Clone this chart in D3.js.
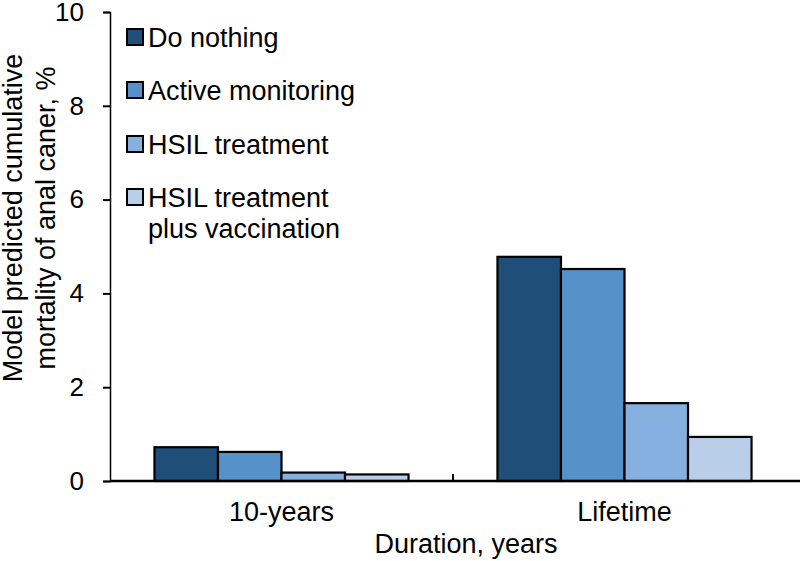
<!DOCTYPE html>
<html><head><meta charset="utf-8">
<script src="https://cdn.jsdelivr.net/npm/d3@7"></script>
<style>body{margin:0;background:#fff}svg{display:block}text{font-family:"Liberation Sans",Arial,sans-serif;fill:#000}</style>
</head><body>
<svg id="c" width="800" height="561"></svg>
<script>
const categories = ["10-years", "Lifetime"];
const seriesNames = ["Do nothing", "Active monitoring", "HSIL treatment", "HSIL treatment plus vaccination"];
const doNothing = [0.72, 4.78];
const activeMonitoring = [0.62, 4.52];
const hsilTreatment = [0.18, 1.66];
const hsilVaccination = [0.14, 0.94];
const yTicks = [0, 2, 4, 6, 8, 10];
const colors = ["#1f4e79", "#5592c9", "#86b0df", "#b9cfe9"];

const seriesValues = [doNothing, activeMonitoring, hsilTreatment, hsilVaccination];
const svg = d3.select("#c");
const FONT = "Liberation Sans, Arial, sans-serif";
const mLeft = 110, mRight = 796, mTop = 12, mBottom = 481;
const x = d3.scaleBand().domain(categories).range([mLeft, mRight]).paddingInner(0).paddingOuter(0);
const y = d3.scaleLinear().domain([0, 10]).range([mBottom, mTop]);
const inner = d3.scaleBand().domain(seriesNames).range([0, x.bandwidth()]).paddingOuter(0.7).paddingInner(0);

// bars
const g = svg.append("g");
categories.forEach((c, ci) => {
  seriesNames.forEach((s, si) => {
    const v = seriesValues[si][ci];
    g.append("rect")
      .attr("x", x(c) + inner(s))
      .attr("y", y(v))
      .attr("width", inner.bandwidth())
      .attr("height", y(0) - y(v))
      .attr("fill", colors[si])
      .attr("stroke", "#000").attr("stroke-width", 2.2);
  });
});

// y axis
const ya = svg.append("g").attr("transform", `translate(${mLeft},0)`)
  .call(d3.axisLeft(y).tickValues(yTicks).tickSize(7).tickPadding(19).tickFormat(d3.format("d")));
ya.select(".domain").attr("stroke", "#000").attr("stroke-width", 1.5);
ya.selectAll(".tick line").attr("stroke", "#000").attr("stroke-width", 2);
ya.selectAll(".tick text").style("font-size", "26px").attr("font-family", FONT).attr("fill", "#000");

// x axis
const xa = svg.append("g").attr("transform", `translate(0,${mBottom})`)
  .call(d3.axisBottom(x).tickSize(0).tickPadding(21));
xa.select(".domain").remove();
xa.append("line").attr("x1", mLeft).attr("x2", 800).attr("y1", 0).attr("y2", 0).attr("stroke", "#000").attr("stroke-width", 2.5);
xa.append("line").attr("x1", x(categories[1])).attr("x2", x(categories[1])).attr("y1", 0).attr("y2", -7).attr("stroke", "#000").attr("stroke-width", 2);
xa.selectAll(".tick text").style("font-size", "27px").attr("font-family", FONT).attr("fill", "#000");

// axis titles
svg.append("text").attr("x", 466).attr("y", 553).attr("text-anchor", "middle").style("font-size", "27px").text("Duration, years");
const yt = svg.append("text").attr("transform", "translate(0,218) rotate(-90)").attr("text-anchor", "middle").style("font-size", "27px");
yt.append("tspan").attr("x", 0).attr("y", 22).text("Model predicted cumulative");
yt.append("tspan").attr("x", 0).attr("y", 55).text("mortality of anal caner, %");

// legend
const legY = [47, 100, 154, 207];
seriesNames.forEach((s, i) => {
  const lg = svg.append("g").attr("transform", `translate(127,${legY[i]})`);
  lg.append("rect").attr("x", 0).attr("y", -18).attr("width", 16).attr("height", 16).attr("fill", colors[i]).attr("stroke", "#000").attr("stroke-width", 2);
  if (i === 3) {
    lg.append("text").attr("x", 21).attr("y", 0).style("font-size", "27px").text("HSIL treatment");
    lg.append("text").attr("x", 21).attr("y", 31).style("font-size", "27px").text("plus vaccination");
  } else {
    lg.append("text").attr("x", 21).attr("y", 0).style("font-size", "27px").text(s);
  }
});
</script>
</body></html>
